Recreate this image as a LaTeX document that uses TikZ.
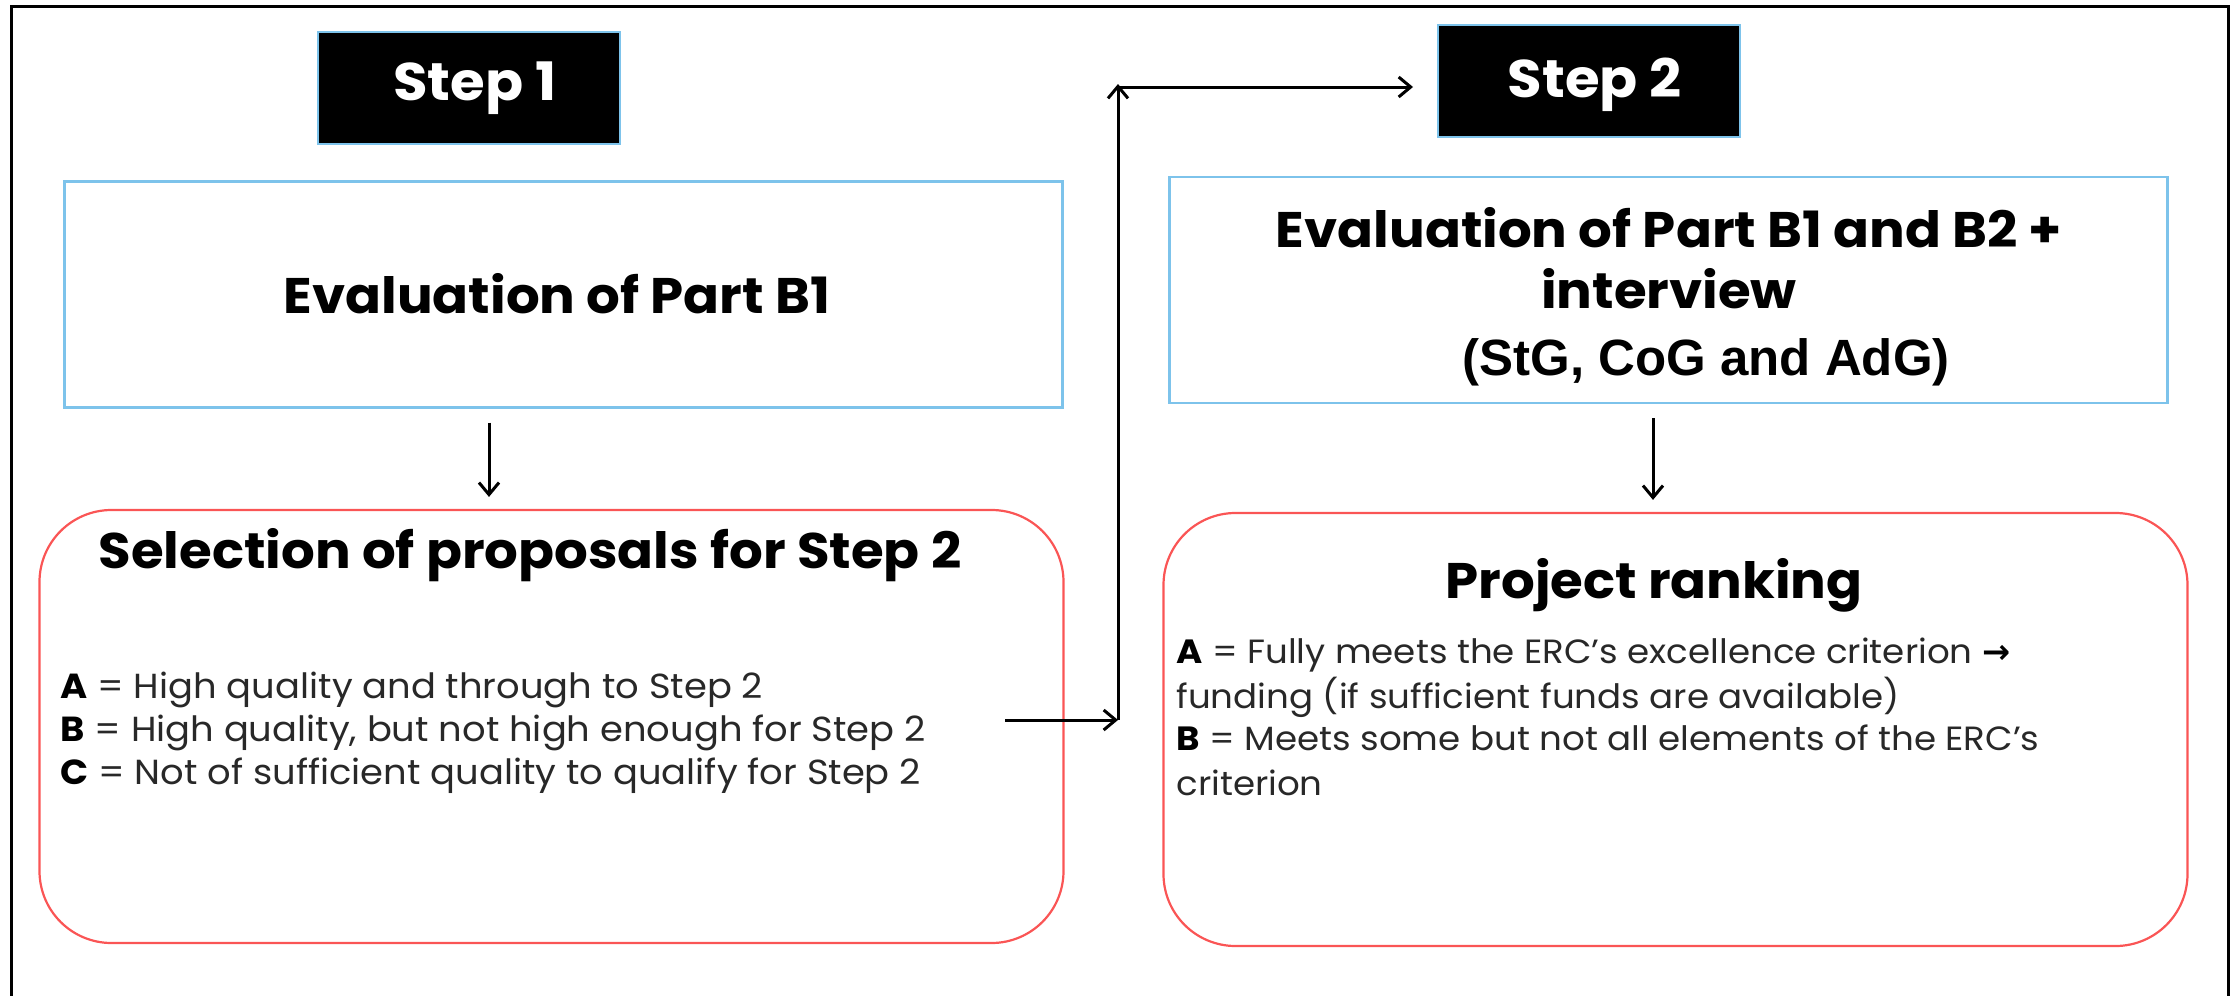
\documentclass[tikz,border=0pt]{standalone}
\usepackage{fontspec}
\setmainfont{Poppins}[FakeStretch=1.06]
\newfontfamily\arialfont{Liberation Sans}
\newfontfamily\symfont{DejaVu Sans}
\usetikzlibrary{arrows.meta}
\definecolor{boxblue}{RGB}{125,195,235}
\definecolor{boxred}{RGB}{250,85,85}
\definecolor{bodytext}{RGB}{40,40,40}
\begin{document}
\begin{tikzpicture}[x=0.5pt,y=-0.5pt,
  stepbox/.style={draw=boxblue,line width=1pt,fill=black,minimum width=151pt,minimum height=56pt,inner sep=0pt},
  evalbox/.style={draw=boxblue,line width=1.2pt,minimum width=499pt,minimum height=113pt,inner sep=0pt},
  resbox/.style={draw=boxred,line width=1.1pt,rounded corners=36pt,minimum width=512pt,minimum height=216.5pt,inner sep=0pt},
  steptext/.style={text=white,font=\fontsize{26.5}{30}\selectfont\bfseries,anchor=base,inner sep=0pt},
  titletext/.style={text=black,font=\fontsize{25}{29}\selectfont\bfseries,anchor=base,inner sep=0pt},
  bodyline/.style={text=bodytext,font=\fontsize{16.8}{20}\selectfont,anchor=base west,inner sep=0pt},
  selline/.style={bodyline,font=\fontsize{17.4}{21}\selectfont},
  arr/.style={line width=1.5pt,-{Straight Barb[length=6pt,width=10pt,line width=1.5pt]}},
  frame/.style={line width=1.5pt,draw=black}]
\useasboundingbox (0,0) rectangle (2234,996);
\draw[frame] (11,996) -- (11,6) -- (2228,6) -- (2228,996);

% boxes
\node[stepbox] (step1) at (469,88) {};
\node[stepbox] (step2) at (1589,81) {};
\node[evalbox] (eval1) at (563.5,294.5) {};
\node[evalbox] (eval2) at (1668.5,290) {};
\node[resbox] (sel) at (551.5,726.5) {};
\node[resbox] (proj) at (1675.5,729.5) {};

% texts
\node[steptext] (s1t) at (475,100) {Step 1};
\node[steptext] (s2t) at (1595,97) {Step 2};
\node[titletext] (e1t) at (557,313) {Evaluation of Part B1};
\node[titletext] (e2t1) at (1669,247) {Evaluation of Part B1 and B2 +};
\node[titletext] (e2t2) at (1669,308) {interview};
\node[titletext,font=\arialfont\fontsize{25.5}{29}\selectfont\bfseries] (e2t3) at (1706,375) {(StG, CoG and AdG)};
\node[titletext] (selt) at (530,568) {Selection of proposals for Step 2};
\node[selline] (sa) at (60,698) {\textbf{\color{black}A} = High quality and through to Step 2};
\node[selline] (sb) at (60,741) {\textbf{\color{black}B} = High quality, but not high enough for Step 2};
\node[selline] (sc) at (60,784) {\textbf{\color{black}C} = Not of sufficient quality to qualify for Step 2};
\node[titletext] (projt) at (1654,598) {Project ranking};
\node[bodyline] (pa) at (1176,663) {\textbf{\color{black}A} = Fully meets the ERC’s excellence criterion {\symfont\bfseries\color{black}→}};
\node[bodyline] (pa2) at (1176,708) {funding (if sufficient funds are available)};
\node[bodyline] (pb) at (1176,750) {\textbf{\color{black}B} = Meets some but not all elements of the ERC’s};
\node[bodyline] (pb2) at (1176,795) {criterion};

% connectors
\draw[arr,shorten <=7pt,shorten >=6pt] ([xshift=-37.25pt]eval1.south) -- ([xshift=-37.25pt]eval1.south |- sel.north);
\draw[arr,shorten <=7pt,shorten >=6pt] ([xshift=-7.75pt]eval2.south) -- ([xshift=-7.75pt]eval2.south |- proj.north);
\coordinate (c1) at (1005,720);
\coordinate (c2) at (1118,720);
\coordinate (c3) at (1118,84);
\draw[arr] (c1) -- (c2);
\draw[arr] (c2) -- (c3);
\draw[arr,shorten >=12pt] (1118,87) -- (step2.west |- 1118,87);
\end{tikzpicture}
\end{document}
